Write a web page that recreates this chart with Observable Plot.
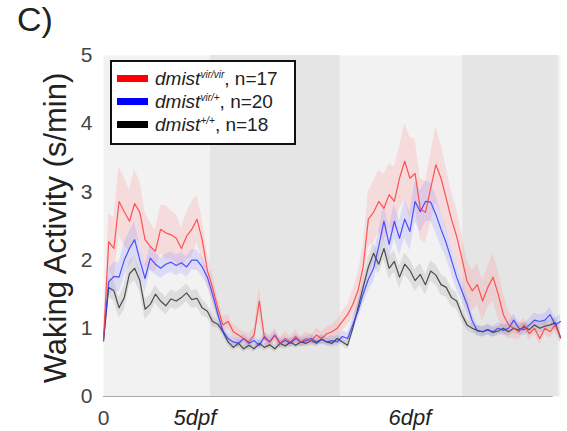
<!DOCTYPE html>
<html><head><meta charset="utf-8">
<script src="https://cdn.jsdelivr.net/npm/d3@7"></script>
<script src="https://cdn.jsdelivr.net/npm/@observablehq/plot@0.6"></script>
<style>
body{margin:0;background:#fff;font-family:"Liberation Sans",Arial,sans-serif}
#wrap{position:relative;width:567px;height:431px;overflow:hidden}
#wrap svg{position:absolute;left:0;top:0}
#title{position:absolute;left:17px;top:2px;font-size:34px;line-height:1;color:#222}
#legend{position:absolute;left:110px;top:60px;width:182px;height:81px;border:2px solid #111;background:#fff}
.row{position:absolute;left:5px;height:23px;display:flex;align-items:center;font-size:19px;color:#222;white-space:nowrap}
.sw{width:31px;height:7px;margin-right:7px}
.row i sup{font-size:10px;vertical-align:7px}
</style></head>
<body>
<div id="wrap"></div>
<script>
// time axis (hours since start of recording), one sample every 0.5 h
const hours = d3.range(0, 44.01, 0.5);

const seriesNames = ["vir/vir", "vir/+", "+/+"];
const seriesLabels = ["vir/vir", "vir/+", "+/+"];
const seriesN = [17, 20, 18];
const seriesColors = ["#ff3b3b", "#3535ff", "#333333"];
const legendColors = ["#ff0000", "#0000ff", "#000000"];
const bandColors = ["#ff8a8a", "#8a8aff", "#909090"];

const redValues = [0.82,2.27,2.17,2.86,2.71,2.57,2.83,2.7,2.3,2.2,2.13,2.45,2.4,2.37,2.32,2.17,2.35,2.45,2.6,2.3,1.85,
  1.6,1.3,1.05,1.1,0.95,0.9,0.85,0.8,0.9,1.4,0.85,0.8,0.9,0.78,0.85,0.8,0.88,0.8,0.85,0.82,0.9,0.85,0.92,0.95,1.0,1.1,1.2,
  1.35,1.55,1.9,2.6,2.7,2.86,2.76,2.96,2.86,3.2,3.45,3.2,3.27,2.75,2.7,3.05,3.4,3.2,2.9,2.6,2.35,2.03,1.69,
  1.55,1.64,1.4,1.6,1.75,1.5,1.2,1.05,1.0,0.95,1.05,0.92,1.0,0.85,1.0,0.95,1.05,0.88];
const blueValues = [0.82,1.68,1.76,1.75,2.0,2.17,2.3,2.0,1.73,2.03,1.94,1.88,1.94,1.97,1.92,1.96,1.9,2.0,2.0,1.9,1.75,
  1.5,1.21,0.96,0.85,0.8,0.78,0.85,0.78,0.82,0.75,0.88,0.8,0.9,0.78,0.82,0.78,0.85,0.8,0.82,0.85,0.8,0.84,0.8,0.82,0.8,0.88,0.85,
  1.05,1.25,1.5,1.72,1.88,2.2,2.57,2.23,2.57,2.32,2.6,2.42,2.86,2.71,2.86,2.85,2.67,2.45,2.25,2.0,1.75,1.55,1.35,
  1.11,0.96,0.95,0.98,0.95,1.0,0.97,1.0,1.12,1.0,0.98,1.05,1.12,1.1,1.12,1.2,1.05,1.1];
const blackValues = [0.82,1.6,1.55,1.3,1.45,1.8,1.88,1.7,1.28,1.35,1.5,1.4,1.33,1.43,1.4,1.45,1.52,1.42,1.44,1.3,1.25,
  1.1,1.06,0.95,0.8,0.72,0.78,0.7,0.75,0.7,0.78,0.72,0.76,0.7,0.78,0.74,0.8,0.75,0.8,0.78,0.82,0.78,0.84,0.8,0.78,0.85,0.8,0.75,
  1.0,1.3,1.6,1.9,2.1,1.94,2.17,1.88,1.98,1.75,1.94,1.85,1.7,1.79,1.64,1.84,1.78,1.64,1.6,1.45,1.4,1.2,1.05,
  1.0,0.97,0.95,0.98,0.94,0.96,1.0,0.95,1.0,0.97,1.02,0.98,1.05,1.0,1.03,1.05,1.08,0.86];

const redSem = [0.1,0.4,0.45,0.5,0.5,0.45,0.5,0.45,0.4,
  0.35,0.3,0.35,0.4,0.35,0.35,0.3,0.35,0.4,0.35,0.3,0.25,
  0.2,0.15,0.12,0.1,0.1,0.1,0.1,0.12,0.1,0.2,0.1,0.1,0.1,0.08,0.1,0.08,0.1,0.08,0.1,0.08,0.1,0.1,0.1,0.1,0.12,0.15,0.15,
  0.2,0.25,0.3,0.4,0.45,0.45,0.5,0.45,0.5,0.45,0.55,0.6,0.5,0.45,0.45,0.5,0.55,0.5,0.45,0.4,0.4,0.35,0.3,
  0.3,0.3,0.3,0.3,0.35,0.35,0.3,0.2,0.15,0.12,0.1,0.1,0.1,0.1,0.1,0.1,0.1,0.1];
const blueSem = [0.05,0.2,0.2,0.22,0.25,0.25,0.25,0.22,0.2,
  0.18,0.16,0.15,0.15,0.15,0.15,0.15,0.15,0.15,0.15,0.14,0.12,
  0.1,0.08,0.07,0.07,0.06,0.07,0.06,0.07,0.06,0.07,0.06,0.07,0.06,0.07,0.06,0.07,0.06,0.07,0.06,0.07,0.06,0.07,0.06,0.07,0.07,0.08,0.08,
  0.1,0.12,0.15,0.18,0.2,0.22,0.25,0.25,0.25,0.25,0.28,0.28,0.3,0.3,0.3,0.28,0.28,0.25,0.22,0.2,0.18,0.15,0.12,
  0.1,0.08,0.08,0.08,0.08,0.08,0.08,0.08,0.09,0.09,0.09,0.09,0.1,0.1,0.1,0.1,0.1,0.1];
const blackSem = [0.05,0.15,0.15,0.15,0.18,0.18,0.18,0.16,0.15,
  0.14,0.13,0.13,0.13,0.13,0.13,0.13,0.13,0.13,0.13,0.12,0.1,
  0.08,0.06,0.05,0.06,0.05,0.06,0.05,0.06,0.05,0.06,0.05,0.06,0.05,0.06,0.05,0.06,0.05,0.06,0.05,0.06,0.05,0.06,0.05,0.06,0.05,0.06,0.06,
  0.08,0.1,0.12,0.14,0.15,0.15,0.16,0.16,0.16,0.16,0.16,0.16,0.16,0.16,0.15,0.15,0.15,0.15,0.14,0.13,0.12,0.1,0.08,
  0.07,0.07,0.07,0.07,0.07,0.07,0.07,0.07,0.07,0.07,0.07,0.07,0.07,0.07,0.07,0.07,0.07,0.07];

// dark (lights-off) periods, hours
const nightStart = [10.3, 34.6];
const nightEnd = [22.8, 43.8];

const yTicks = [0, 1, 2, 3, 4, 5];
const xTickValues = [0];
const dayLabels = ["5dpf", "6dpf"];
const dayLabelPos = [8.8, 29.5];
const yLabel = "Waking Activity (s/min)";
const panelTitle = "C)";

const allValues = [redValues, blueValues, blackValues];
const allSem = [redSem, blueSem, blackSem];

const rows = [];
seriesNames.forEach((g, k) => {
  hours.forEach((h, i) => rows.push({g, h, v: allValues[k][i], s: allSem[k][i]}));
});
const nights = nightStart.map((s, i) => ({start: s, end: nightEnd[i]}));

const marks = [
  Plot.frame({fill: "#f2f2f2", stroke: null}),
  Plot.rect(nights, {x1: "start", x2: "end", y1: 0, y2: 5, fill: "#e5e5e5"})
];
seriesNames.forEach((g, k) => {
  marks.push(Plot.areaY(rows.filter(r => r.g === g), {x: "h", y1: d => d.v - d.s, y2: d => d.v + d.s, fill: bandColors[k], fillOpacity: 0.22}));
});
[2, 1, 0].forEach(k => {
  const g = seriesNames[k];
  marks.push(Plot.line(rows.filter(r => r.g === g), {x: "h", y: "v", stroke: seriesColors[k], strokeWidth: 1.2, strokeOpacity: 0.85}));
});
marks.push(
  Plot.ruleY([0], {x1: 0, x2: 43.3, stroke: "#aaa", strokeWidth: 1}),
  Plot.axisY({ticks: yTicks, tickFormat: d3.format("d"), tickSize: 0, tickPadding: 11, fontSize: 21, color: "#444", label: null}),
  Plot.text(xTickValues, {x: d => d, y: 0, text: d => String(d), dy: 22, fontSize: 21, fill: "#444"}),
  Plot.text(dayLabels, {x: (d, i) => dayLabelPos[i], y: 0, text: d => d, dy: 21, fontSize: 22, fontStyle: "italic", fill: "#222"}),
  Plot.text([yLabel], {frameAnchor: "left", textAnchor: "middle", rotate: -90, dx: -47, dy: 2, text: d => d, fontSize: 31, fill: "#222"})
);

const chart = Plot.plot({
  width: 567, height: 431,
  marginLeft: 103, marginRight: 7, marginTop: 55, marginBottom: 35,
  x: {domain: [0, 44], axis: null},
  y: {domain: [0, 5], axis: null},
  style: {fontFamily: "Liberation Sans, Arial, sans-serif", background: "transparent", overflow: "visible"},
  marks
});

const wrap = document.getElementById("wrap");
wrap.appendChild(chart);
const t = document.createElement("div");
t.id = "title"; t.textContent = panelTitle;
wrap.appendChild(t);
const leg = document.createElement("div");
leg.id = "legend";
seriesNames.forEach((g, k) => {
  const r = document.createElement("div");
  r.className = "row";
  r.style.top = (5 + k * 23) + "px";
  r.innerHTML = `<span class="sw" style="background:${legendColors[k]}"></span><i>dmist<sup>${seriesLabels[k]}</sup></i>, n=${seriesN[k]}`;
  leg.appendChild(r);
});
wrap.appendChild(leg);
</script>
</body></html>
